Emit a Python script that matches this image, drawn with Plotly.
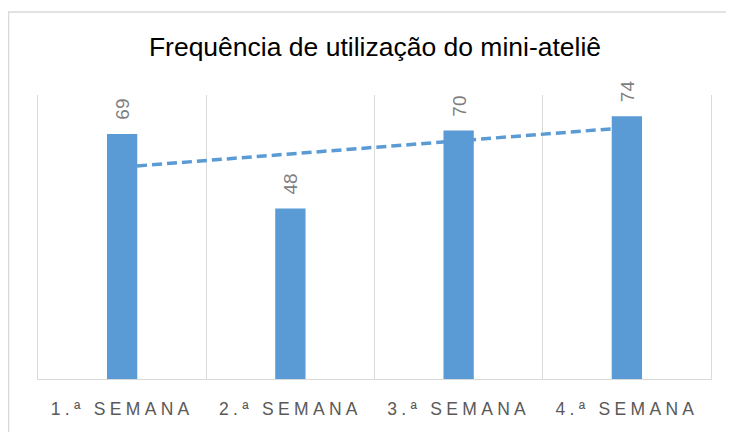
import numpy as np
import plotly.graph_objects as go

categories = ["1.ª SEMANA", "2.ª SEMANA", "3.ª SEMANA", "4.ª SEMANA"]
values = [69, 48, 70, 74]
title_text = "Frequência de utilização do mini-ateliê"

BLUE = "#5B9BD5"
GRID = "#D9D9D9"
LABEL_GRAY = "#7F7F7F"

# linear trend line fitted to the data (as in the spreadsheet chart)
xi = np.arange(1, len(values) + 1)
slope, intercept = np.polyfit(xi, values, 1)
trend = slope * xi + intercept

fig = go.Figure()
fig.add_trace(go.Bar(
    x=categories, y=values,
    marker=dict(color=BLUE, line=dict(width=0)),
    width=0.18,
    hoverinfo="x+y",
))
fig.add_trace(go.Scatter(
    x=categories, y=trend, mode="lines",
    line=dict(color=BLUE, width=3.5, dash="10px,5px"),
    hoverinfo="skip",
))

annotations = [
    dict(x=c, y=v, xref="x", yref="y", text=str(v), showarrow=False,
         textangle=-90, yanchor="bottom", xanchor="center", yshift=12,
         font=dict(family="Liberation Sans, Arial", size=19, color=LABEL_GRAY))
    for c, v in zip(categories, values)
]

fig.update_layout(
    width=734, height=432,
    margin=dict(l=30, r=31, t=87, b=61),
    paper_bgcolor="white", plot_bgcolor="white",
    showlegend=False,
    title=dict(text=title_text, x=0.5, xanchor="center", y=1 - 39 / 432, yanchor="middle",
               font=dict(family="Liberation Sans, Arial", size=26.5, color="#000000")),
    xaxis=dict(
        type="category", tickson="boundaries", showgrid=True, gridcolor=GRID, gridwidth=1,
        showline=True, linecolor=GRID, linewidth=1, ticks="", ticklen=0,
        ticklabelstandoff=14,
        tickfont=dict(family="Liberation Sans, Arial", size=17.5, color="#595959"),
        range=[-0.5, 3.5],
    ),
    yaxis=dict(range=[0, 80], showgrid=False, showticklabels=False, zeroline=False,
               showline=True, mirror=True, linecolor=GRID, linewidth=1),
    annotations=annotations,
    shapes=[dict(type="rect", xref="paper", yref="paper",
                 x0=-29.5 / 673, x1=1.2, y0=-0.5, y1=(284 + 83) / 284,
                 line=dict(color=GRID, width=1.5), fillcolor="rgba(0,0,0,0)", layer="below")],
)

post = """
document.querySelectorAll('.xtick text').forEach(function(t){
  t.style.letterSpacing = '4.3px';
});
"""

fig.write_html("out.html", post_script=post)
